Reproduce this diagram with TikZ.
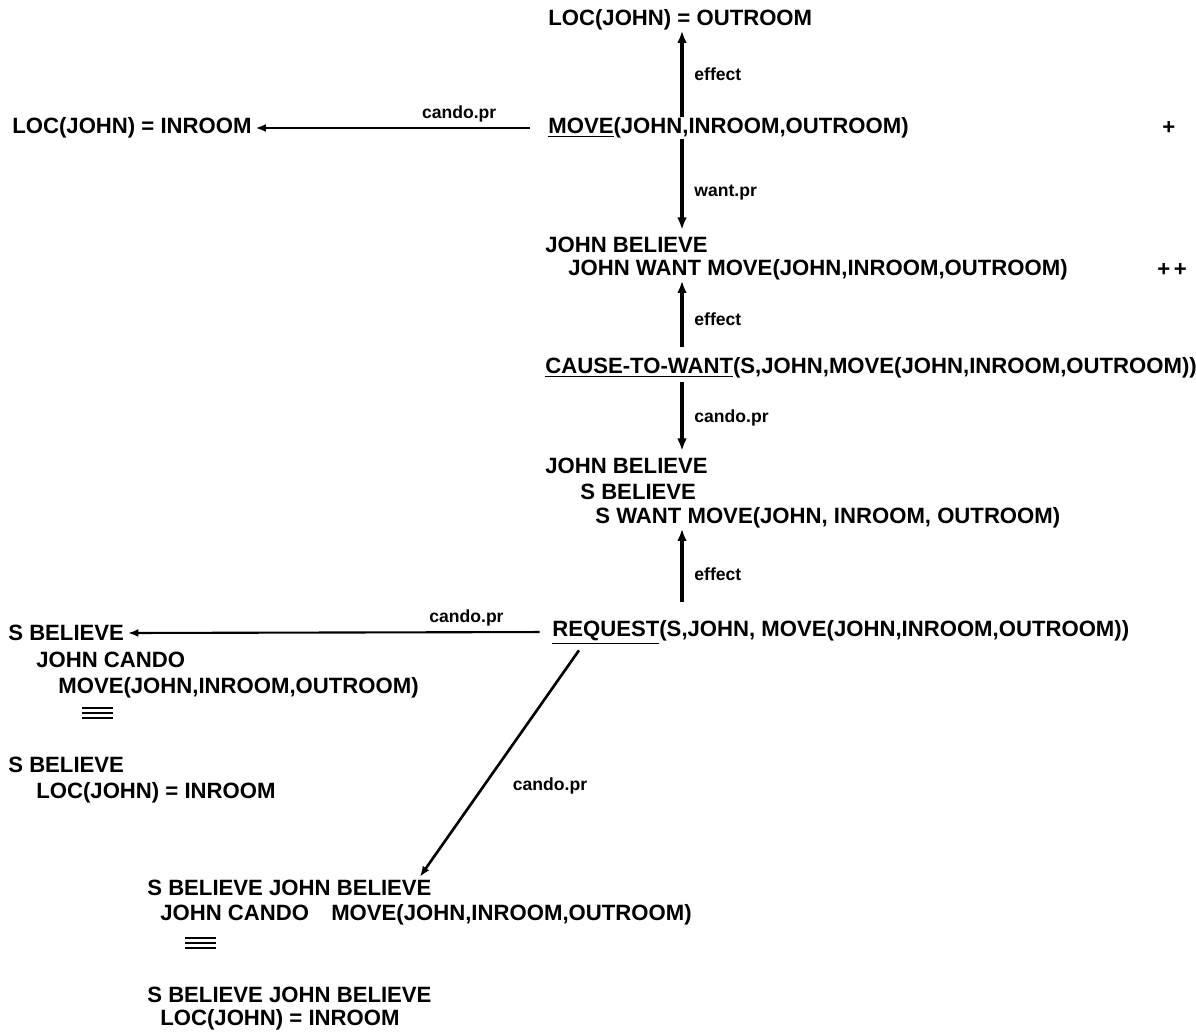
\documentclass[tikz,border=0pt]{standalone}
\usepackage{fontspec}
\setmainfont{Liberation Sans}
\usetikzlibrary{arrows.meta,calc}

\begin{document}
\begin{tikzpicture}[>=Latex, x=0.02cm, y=-0.02cm, font=\fontsize{12.6}{14}\selectfont\bfseries]
	\tikzset{txt/.style={anchor=west, inner sep=0pt},
		lbl/.style={font=\fontsize{10}{12}\selectfont\bfseries, inner sep=0pt},
		arr/.style={-{Latex[length=7pt,width=5.5pt]}, line width=2.1pt},
		harr/.style={-{Latex[length=6pt,width=4.5pt]}, line width=1.2pt}}
	\useasboundingbox (0,0) rectangle (1196,1031);
	%\draw [help lines] (0,0) grid[step=100] (1196,1031);
	\coordinate (ax) at (682,0);
	%Move
	\node[txt] (locout) at (548,20) {LOC(JOHN) = OUTROOM};
	\node[txt] (move) at (548,128) {\underline{MOVE}(JOHN,INROOM,OUTROOM)};
	\node[txt] (plus) at (1162,128) {+};
	\node[txt] (locin) at (12,128) {LOC(JOHN) = INROOM};
	\draw[arr] (move.north -| ax) -- (locout.south -| ax) node [lbl, pos=0.5, right=6pt] {effect};
	\draw[harr, shorten <=10pt, shorten >=2pt] (move.west) -- (locin.east) node [lbl, pos=0.3, above=3pt] {cando.pr};
	%Want
	\node[txt] (jb1) at (545,245) {JOHN BELIEVE};
	\node[txt] (jw) at (568,270) {JOHN WANT MOVE(JOHN,INROOM,OUTROOM)};
	\node[txt] (pp) at (1157,270) {+\,+};
	\draw[arr, shorten >=4pt] (move.south -| ax) -- (jb1.north -| ax) node [lbl, pos=0.55, right=6pt] {want.pr};
	%Cause to want
	\node[txt] (ctw) at (545,368) {\underline{CAUSE-TO-WANT}(S,JOHN,MOVE(JOHN,INROOM,OUTROOM))};
	\draw[arr, shorten <=6pt] (ctw.north -| ax) -- (jw.south -| ax) node [lbl, pos=0.5, right=6pt] {effect};
	%S want
	\node[txt] (jb2) at (545,466) {JOHN BELIEVE};
	\node[txt] (sb1) at (580,492) {S BELIEVE};
	\node[txt] (sw) at (595,518) {S WANT MOVE(JOHN, INROOM, OUTROOM)};
	\draw[arr, shorten <=2pt, shorten >=4pt] (ctw.south -| ax) -- (jb2.north -| ax) node [lbl, pos=0.5, right=6pt] {cando.pr};
	%Request
	\node[txt] (req) at (552,632) {\underline{REQUEST}(S,JOHN, MOVE(JOHN,INROOM,OUTROOM))};
	\draw[arr, shorten <=10pt] (req.north -| ax) -- (sw.south -| ax) node [lbl, pos=0.5, right=6pt] {effect};
	%Sinistra
	\node[txt] (sb2) at (8,633) {S BELIEVE};
	\node[txt] (jc1) at (36,660) {JOHN CANDO};
	\node[txt] (mv1) at (58,688) {MOVE(JOHN,INROOM,OUTROOM)};
	\node[txt] (sb3) at (8,765) {S BELIEVE};
	\node[txt] (li1) at (36,793) {LOC(JOHN) = INROOM};
	\foreach \y in {708,713,718} \draw[line width=1pt] (82,\y) -- (113,\y);
	\draw[harr, shorten <=7pt, shorten >=2pt] (req.west) -- (sb2.east) node [lbl, pos=0.2, above=3pt] {cando.pr};
	%Sotto
	\node[txt] (sjb1) at (147,888) {S BELIEVE JOHN BELIEVE};
	\node[txt] (jc2) at (160,915) {JOHN CANDO\hspace{1em}MOVE(JOHN,INROOM,OUTROOM)};
	\node[txt] (sjb2) at (147,995) {S BELIEVE JOHN BELIEVE};
	\node[txt] (li2) at (160,1020) {LOC(JOHN) = INROOM};
	\foreach \y in {938,943,948} \draw[line width=1pt] (185,\y) -- (216,\y);
	\draw[harr, line width=1.5pt] ($(req.south west)+(27,6)$) -- ($(sjb1.north east)+(-12,-3)$) node [lbl, pos=0.6, right=16pt] {cando.pr};
\end{tikzpicture}
\end{document}
